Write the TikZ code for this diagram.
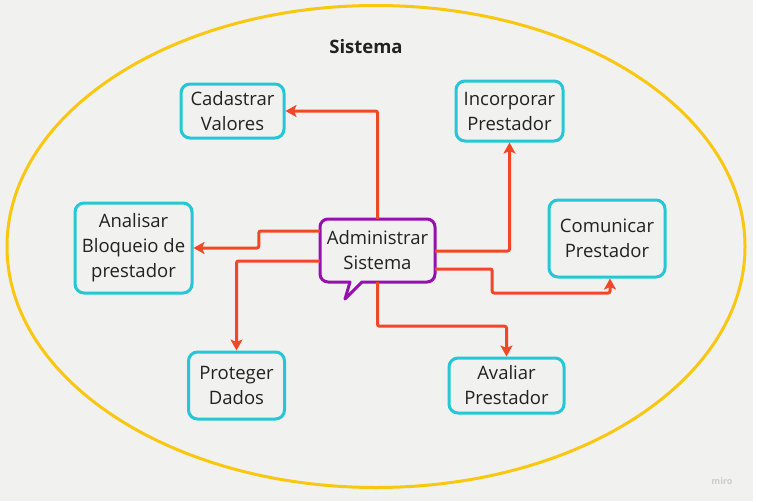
\documentclass[tikz,border=0pt]{standalone}
\usepackage{fontspec}
\setmainfont{Open Sans}
\usetikzlibrary{arrows.meta,calc}
\definecolor{bgc}{HTML}{F1F1F0}
\definecolor{cyanb}{HTML}{25C6D5}
\definecolor{redc}{HTML}{F24726}
\definecolor{purp}{HTML}{9510AC}
\definecolor{yell}{HTML}{FAC710}
\definecolor{txt}{HTML}{222222}
\tikzset{
  ucbox/.style={draw=cyanb, line width=3pt, rounded corners=9pt, align=center,
    inner sep=0pt, text=txt, font=\fontsize{18.5}{25}\selectfont},
  conn/.style={draw=redc, line width=3pt, rounded corners=2pt,
    -{Stealth[length=11pt,width=12pt,inset=2.5pt]}},
}
\begin{document}
\begin{tikzpicture}[x=1pt,y=-1pt]
\fill[bgc] (0,0) rectangle (757,501);
\fill[white] (753,0) rectangle (757,501);
\useasboundingbox (0,0) rectangle (757,501);
\draw[yell, line width=3pt] (376,246.5) ellipse[x radius=369, y radius=241];
\node[font=\bfseries\fontsize{18.5}{20}\selectfont, text=txt] (title) at (366,47) {Sistema};
\node[text=black!20, font=\bfseries\fontsize{9}{10}\selectfont] (miro) at (722,481) {miro};

\node[ucbox, minimum width=103pt, minimum height=54pt] (cad) at (232.5,111) {Cadastrar\\Valores};
\node[ucbox, minimum width=107pt, minimum height=60pt] (inc) at (509.5,111) {Incorporar\\Prestador};
\node[ucbox, minimum width=117pt, minimum height=90pt] (ana) at (133.5,248) {Analisar\\Bloqueio de\\prestador};
\node[ucbox, minimum width=116pt, minimum height=77pt] (com) at (607,238.5) {Comunicar\\Prestador};
\node[ucbox, minimum width=96pt, minimum height=67pt] (pro) at (236.5,385.5) {Proteger\\Dados};
\node[ucbox, minimum width=115pt, minimum height=55pt] (ava) at (506.5,385.5) {Avaliar\\Prestador};

% admin callout
\draw[purp, line width=3pt, line join=round]
  (328,219) -- (427,219) arc[start angle=-90, end angle=0, radius=8]
  -- (435,274) arc[start angle=0, end angle=90, radius=8]
  -- (362,282) -- (345,299) -- (350,282) -- (328,282)
  arc[start angle=90, end angle=180, radius=8]
  -- (320,227) arc[start angle=180, end angle=270, radius=8] -- cycle;
\node[minimum width=115pt, minimum height=63pt, inner sep=0pt, align=center,
  text=txt, font=\fontsize{18.5}{25}\selectfont] (adm) at (377.5,250.5) {Administrar\\Sistema};

\draw[conn] (adm.north) |- (cad.east);
\draw[conn] ([yshift=-0.5pt]adm.east) -| (inc.south);
\draw[conn] ([yshift=-18.5pt]adm.east) -- ++(57,0) -- ++(0,24) -| ([xshift=3pt]com.south);
\draw[conn] ([yshift=19.5pt]adm.west) -- ++(-61,0) |- (ana.east);
\draw[conn] ([yshift=-10.5pt]adm.west) -| (pro.north);
\draw[conn] (adm.south) -- ++(0,44) -| (ava.north);
\end{tikzpicture}
\end{document}
